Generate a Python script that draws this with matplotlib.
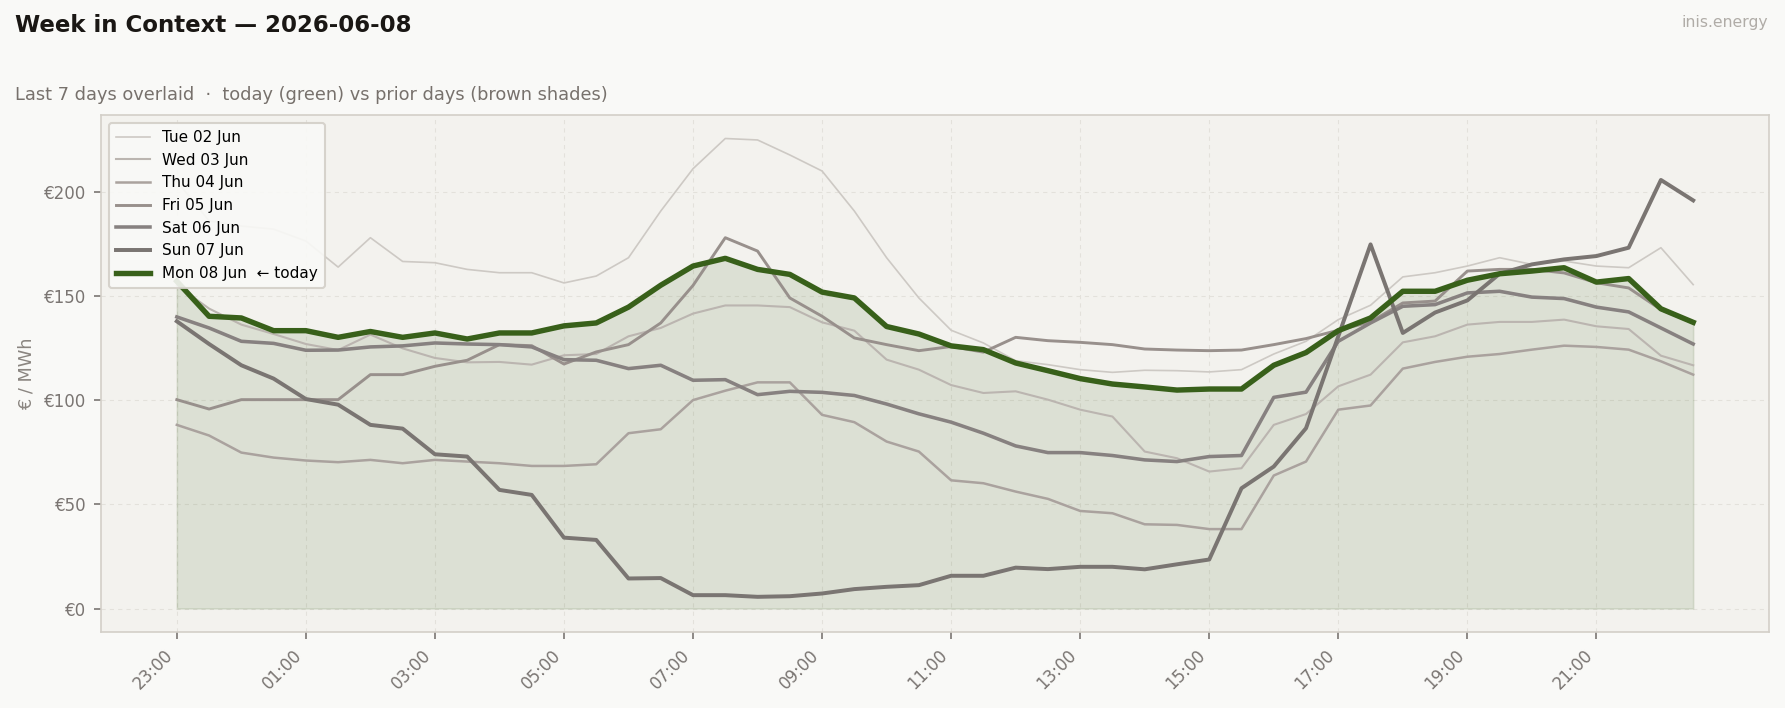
import matplotlib
matplotlib.use("Agg")
import matplotlib.pyplot as plt
from matplotlib.ticker import FuncFormatter

# half-hourly slots from 23:00 to 22:30
slots = ["%02d:%02d" % ((23 + k // 2) % 24, 30 * (k % 2)) for k in range(48)]

tue = [205, 186, 183.5, 182, 176.3, 163.8, 177.9, 166.5, 165.9, 162.7, 161.1, 161.1,
       156.2, 159.5, 168.3, 190.7, 211, 225.5, 224.8, 217.6, 209.9, 190.7, 168.3, 149,
       133.5, 127.4, 118.9, 117, 114.6, 113.3, 114.3, 114.1, 113.5, 114.6, 122.1, 128.2,
       138.6, 145.5, 159.1, 161.1, 164.3, 168.3, 165.1, 166.7, 164.3, 163.5, 173.1, 155.4]
wed = [155, 143.9, 136.2, 131.7, 126.9, 124, 131.4, 124.8, 120.2, 118.1, 118.3, 117,
       121.5, 122.1, 130.6, 134.6, 141.5, 145.4, 145.4, 144.6, 137.3, 133.3, 119.4, 114.6,
       107.2, 103.4, 104.2, 100.2, 95.4, 92.1, 75.3, 72.1, 65.7, 67.3, 88.1, 93.3,
       106.6, 112.2, 127.7, 130.6, 136.2, 137.5, 137.5, 138.6, 135.4, 134.1, 121.3, 116.7]
thu = [88.1, 83, 74.8, 72.4, 71, 70.2, 71.3, 69.7, 71.3, 70.5, 69.7, 68.4,
       68.4, 69.2, 84.1, 86, 100, 104.5, 108.5, 108.5, 92.9, 89.4, 80.1, 75.3,
       61.5, 60.1, 56.1, 52.6, 46.8, 45.7, 40.4, 40.1, 38.1, 38.1, 63.8, 70.5,
       95.4, 97.4, 115.1, 118.3, 120.8, 122.1, 124.2, 126.1, 125.5, 124.2, 118.6, 112.2]
fri = [100.2, 95.7, 100.2, 100.2, 100.2, 100.2, 112.2, 112.2, 116.2, 119.1, 126.6, 126.1,
       117.3, 123.1, 126.6, 137, 155, 177.9, 171.5, 149, 140.2, 129.8, 126.6, 123.7,
       125.7, 123, 130.1, 128.5, 127.7, 126.6, 124.5, 124, 123.7, 124, 126.6, 129.5,
       133.5, 137.5, 146.6, 147.5, 161.9, 162.7, 162.7, 161, 156.3, 153.8, 143.4, 137]
sat = [139.9, 134.6, 128.2, 127.2, 123.9, 124, 125.5, 126, 127.4, 126.9, 126.6, 125.5,
       119.4, 119.1, 115.1, 116.7, 109.5, 109.8, 102.6, 104.2, 103.7, 102.2, 98.1, 93.4,
       89.4, 84.1, 78, 74.8, 74.8, 73.4, 71.3, 70.5, 72.9, 73.4, 101.3, 103.8,
       128.2, 137, 145, 145.8, 151.4, 152.2, 149.4, 148.7, 144.6, 142.3, 134.6, 126.9]
sun = [137.8, 126.9, 116.7, 110.3, 100.5, 97.8, 88.1, 86.3, 74, 72.9, 56.9, 54.5,
       34, 32.9, 14.4, 14.6, 6.4, 6.4, 5.6, 5.9, 7.2, 9.3, 10.4, 11.2,
       15.7, 15.7, 19.6, 18.9, 20, 20, 18.8, 21.2, 23.5, 57.7, 68.1, 86.5,
       130.6, 174.7, 132.2, 142, 147.8, 160.6, 165.1, 167.5, 169.1, 173.1, 205.6, 195.8]
mon = [157, 140.2, 139.4, 133.3, 133.3, 130.1, 132.9, 130.1, 132.2, 129.3, 132.2, 132.2,
       135.6, 137, 144.6, 155.1, 164.3, 168, 162.7, 160.3, 151.8, 149, 135.3, 131.7,
       126, 124.2, 117.8, 114.1, 110.3, 107.7, 106.3, 104.8, 105.3, 105.3, 116.7, 122.8,
       133.3, 139.4, 152.2, 152.2, 157.5, 160.6, 161.9, 163.5, 156.6, 158.3, 143.8, 137.3]

prior_days = ["Tue 02 Jun", "Wed 03 Jun", "Thu 04 Jun", "Fri 05 Jun", "Sat 06 Jun", "Sun 07 Jun"]
prior_vals = [tue, wed, thu, fri, sat, sun]
prior_cols = ["#cdc9c4", "#bbb5b0", "#aaa29e", "#98908c", "#878180", "#7a7572"]
prior_lw = [0.8, 1.0, 1.2, 1.4, 1.7, 1.9]
green = "#38601a"

fig = plt.figure(figsize=(11.9, 4.72), dpi=150, facecolor="#f9f9f7")
ax = fig.add_axes([101 / 1785, 1 - 632 / 708, 1668 / 1785, 517 / 708])
ax.set_facecolor("#f3f2ee")

x = list(range(len(slots)))
for name, vals, c, lw in zip(prior_days, prior_vals, prior_cols, prior_lw):
    ax.plot(x, vals, color=c, lw=lw, label=name)
ax.fill_between(x, 0, mon, color=green, alpha=0.12, lw=0.8)
ax.plot(x, mon, color=green, lw=2.6, label="Mon 08 Jun  \u2190 today")

ax.set_xticks(x[::4])
ax.set_xticklabels(slots[::4], rotation=45, ha="right", fontsize=8, color="#6e6a66")
ax.yaxis.set_major_formatter(FuncFormatter(lambda v, p: "\u20ac%d" % v))
ax.tick_params(axis="y", labelsize=8, labelcolor="#6e6a66")
ax.tick_params(colors="#7a7572", length=3.5)
ax.set_ylabel("\u20ac / MWh", fontsize=8.5, color="#8a8580", labelpad=4)
ax.grid(True, ls=(0, (4, 4)), lw=0.5, color="#e3e1db")
ax.set_axisbelow(True)
for s in ax.spines.values():
    s.set_color("#d3cfc8")

leg = ax.legend(loc="upper left", fontsize=7.3, frameon=True, facecolor="#f9f9f7",
                edgecolor="#d3cfc8", framealpha=0.9, handlelength=2.2, borderpad=0.5,
                labelspacing=0.5)

fig.text(15 / 1785, 1 - 25 / 708, "Week in Context \u2014 2026-06-08", fontsize=11,
         fontweight="bold", color="#1a1714", va="center")
fig.text(15 / 1785, 1 - 95 / 708, "Last 7 days overlaid  \u00b7  today (green) vs prior days (brown shades)",
         fontsize=8.5, color="#77716c", va="center")
fig.text(1768 / 1785, 1 - 22 / 708, "inis.energy", fontsize=7.5, color="#b0aca7",
         ha="right", va="center")

fig.savefig("out.png", dpi=150, facecolor=fig.get_facecolor())
